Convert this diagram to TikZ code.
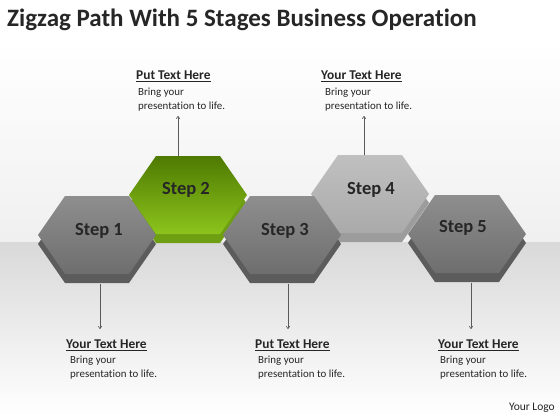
\documentclass[tikz,border=0pt]{standalone}
\usepackage{fontspec}
\setmainfont{Carlito}[Ligatures={NoCommon,NoContextual}]
\usetikzlibrary{arrows.meta}
\definecolor{grtop}{HTML}{8E8E8E}
\definecolor{grbot}{HTML}{6E6E6E}
\definecolor{grside}{HTML}{5C5C5C}
\definecolor{lttop}{HTML}{C0C0C0}
\definecolor{ltbot}{HTML}{AAAAAA}
\definecolor{ltside}{HTML}{9C9C9C}
\definecolor{gntop}{HTML}{4E7A02}
\definecolor{gnbot}{HTML}{8CC41C}
\definecolor{gnside}{HTML}{6E9E12}
\definecolor{txt}{HTML}{262626}
\definecolor{linec}{HTML}{5A5A5A}
\newcommand{\zzhex}[5]{% cx, cy, top, bottom, side
  \fill[#5] (#1-59,#2+9) -- (#1-32,#2-30) -- (#1+32,#2-30) -- (#1+59,#2+9) -- (#1+32,#2+48) -- (#1-32,#2+48) -- cycle;
  \shade[top color=#3,bottom color=#4] (#1-59,#2) -- (#1-32,#2-39) -- (#1+32,#2-39) -- (#1+59,#2) -- (#1+32,#2+39) -- (#1-32,#2+39) -- cycle;
}
\tikzset{
  steplabel/.style={font=\fontsize{18.5}{21}\selectfont\bfseries, text=txt, inner sep=0pt},
  headlabel/.style={font=\fontsize{13.4}{15}\selectfont\bfseries, text=txt, anchor=west, inner sep=0pt},
  bodylabel/.style={font=\fontsize{10.9}{13.5}\selectfont, text=txt, anchor=north west, align=left, inner sep=0pt},
  pointer/.style={draw=linec, line width=0.6pt, -{To[length=3pt,width=4pt]}}
}
\begin{document}
\begin{tikzpicture}[x=1pt,y=-1pt]
\useasboundingbox (0,0) rectangle (560,420);
\fill[white] (0,0) rectangle (560,420);
\shade[top color=white, bottom color=black!6] (0,40) rectangle (560,242);
\shade[top color=black!15, bottom color=white] (0,242) rectangle (560,415);
\fill[white] (0,415) rectangle (560,420);
% title
\node[anchor=west, font=\fontsize{25}{28}\selectfont\bfseries, text=txt, inner sep=0pt] (title) at (7,20) {Zigzag Path With 5 Stages Business Operation};
% back hexes
\zzhex{188}{195}{gntop}{gnbot}{gnside}
\zzhex{370}{194}{lttop}{ltbot}{ltside}
% front hexes
\zzhex{97}{235}{grtop}{grbot}{grside}
\zzhex{282}{235}{grtop}{grbot}{grside}
\zzhex{467}{234}{grtop}{grbot}{grside}
% step labels
\node[steplabel] (s1) at (99,231) {Step 1};
\node[steplabel] (s2) at (186,190) {Step 2};
\node[steplabel] (s3) at (285,231) {Step 3};
\node[steplabel] (s4) at (371,190) {Step 4};
\node[steplabel] (s5) at (463,228) {Step 5};
% anchors on hexes
\coordinate (t2) at (178,156);
\coordinate (t4) at (364,155);
\coordinate (b1) at (100,284);
\coordinate (b3) at (288,284);
\coordinate (b5) at (471,283);
% top texts
\node[headlabel] (h2) at (136,76) {\underline{Put Text Here}};
\node[bodylabel] (d2) at (138,88) {Bring your\\presentation to life.};
\node[headlabel] (h4) at (321,76) {\underline{Your Text Here}};
\node[bodylabel] (d4) at (325,88) {Bring your\\presentation to life.};
\coordinate (e2) at (178,116);
\coordinate (e4) at (364,116);
% bottom texts
\node[headlabel] (h1) at (66,345) {\underline{Your Text Here}};
\node[bodylabel] (d1) at (70,356) {Bring your\\presentation to life.};
\node[headlabel] (h3) at (255,345) {\underline{Put Text Here}};
\node[bodylabel] (d3) at (258,356) {Bring your\\presentation to life.};
\node[headlabel] (h5) at (438,345) {\underline{Your Text Here}};
\node[bodylabel] (d5) at (440,356) {Bring your\\presentation to life.};
\coordinate (e1) at (100,329);
\coordinate (e3) at (288,329);
\coordinate (e5) at (471,329);
% pointers
\draw[pointer] (t2) -- (e2);
\draw[pointer] (t4) -- (e4);
\draw[pointer] (b1) -- (e1);
\draw[pointer] (b3) -- (e3);
\draw[pointer] (b5) -- (e5);
% logo
\node[anchor=east, font=\fontsize{11.5}{13}\selectfont, text=txt, inner sep=0pt] (logo) at (555,408) {Your Logo};
\end{tikzpicture}
\end{document}
